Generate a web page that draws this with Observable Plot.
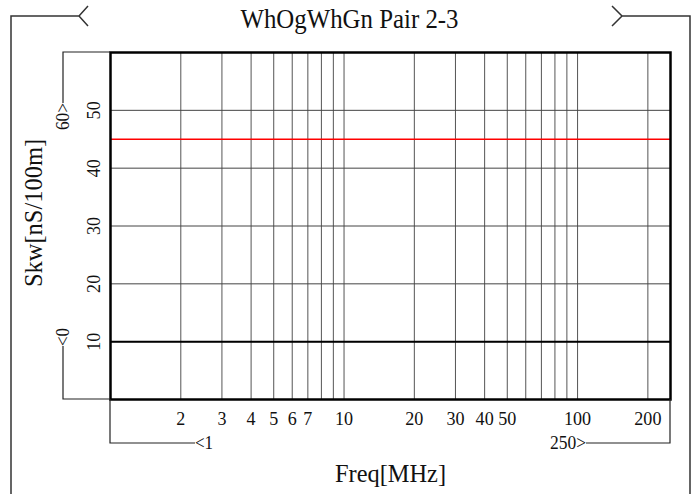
<!DOCTYPE html>
<html>
<head>
<meta charset="utf-8">
<script src="https://cdn.jsdelivr.net/npm/d3@7"></script>
<script src="https://cdn.jsdelivr.net/npm/@observablehq/plot@0.6"></script>
<style>
  body { margin: 0; background: #fff; }
  svg { display: block; }
</style>
</head>
<body>
<div id="chart"></div>
<script>
// Chart texts
const title = "WhOgWhGn Pair 2-3";
const xLabel = "Freq[MHz]";
const yLabel = "Skw[nS/100m]";

// Axis ranges: frequency (log) and skew
const freqDomain = [1, 250];
const skewDomain = [0, 60];

// Grid and tick values
const xGridValues = [2, 3, 4, 5, 6, 7, 8, 9, 10, 20, 30, 40, 50, 60, 70, 80, 90, 100, 200];
const xTickLabels = [2, 3, 4, 5, 6, 7, 10, 20, 30, 40, 50, 100, 200];
const yGridValues = [10, 20, 30, 40, 50];
const yTickLabels = [10, 20, 30, 40, 50];

// Horizontal levels: skew limit (red) and measured skew (black)
const limitSkew = [45];
const measuredSkew = [10];

const W = 699, H = 494;
const M = {top: 52, right: 29, bottom: 95, left: 110};
const FONT = "'Liberation Serif', 'Times New Roman', serif";
const TICK_SIZE = 19, LABEL_SIZE = 26, TITLE_SIZE = 27;

const plot = Plot.plot({
  width: W,
  height: H,
  marginTop: M.top,
  marginRight: M.right,
  marginBottom: M.bottom,
  marginLeft: M.left,
  style: {fontFamily: FONT, fontSize: TICK_SIZE + "px", background: "#fff", color: "#111"},
  x: {type: "log", domain: freqDomain, axis: null},
  y: {domain: skewDomain, axis: null},
  marks: [
    Plot.ruleX(xGridValues, {x: d => d, stroke: "#555", strokeWidth: 1}),
    Plot.ruleY(yGridValues, {y: d => d, stroke: "#444", strokeWidth: 1}),
    Plot.ruleY(measuredSkew, {y: d => d, stroke: "#000", strokeWidth: 2}),
    Plot.ruleY(limitSkew, {y: d => d, stroke: "#ff0000", strokeWidth: 1.5}),
    Plot.frame({stroke: "#000", strokeWidth: 2.5}),
    Plot.text(xTickLabels, {
      x: d => d, text: d => String(d), frameAnchor: "bottom",
      dy: 25, lineAnchor: "bottom", fontSize: TICK_SIZE, fill: "#111"
    }),
    Plot.text(yTickLabels, {
      y: d => d, text: d => String(d), frameAnchor: "left",
      dx: -11, rotate: -90, lineAnchor: "bottom", textAnchor: "middle", fontSize: TICK_SIZE, fill: "#111"
    }),
    Plot.text([xLabel], {
      text: d => d, frameAnchor: "bottom", dy: 82, lineAnchor: "bottom", fontSize: LABEL_SIZE, fill: "#111"
    }),
    Plot.text([yLabel], {
      text: d => d, frameAnchor: "left", dx: -69, dy: -13, rotate: -90,
      lineAnchor: "bottom", textAnchor: "middle", fontSize: LABEL_SIZE, fill: "#111"
    })
  ]
});

document.getElementById("chart").append(plot);

// Decorations: outer frame with title chevrons, and range brackets
const svg = d3.select(plot);
const sx = plot.scale("x"), sy = plot.scale("y");
const xLeft = sx.apply(freqDomain[0]), xRight = sx.apply(freqDomain[1]);
const yBottom = sy.apply(skewDomain[0]), yTop = sy.apply(skewDomain[1]);

const deco = svg.append("g").attr("fill", "none");

// outer frame
const oL = 11, oR = W - 9, oT = 16, inset = 68;
deco.append("path")
  .attr("stroke", "#333").attr("stroke-width", 1.5)
  .attr("d", `M${oL + inset + 9},${oT - 10}L${oL + inset},${oT}L${oL + inset + 9},${oT + 10}` +
             `M${oL + inset},${oT}H${oL}V${H}` +
             `M${oR - inset - 10},${oT - 10}L${oR - inset},${oT}L${oR - inset - 10},${oT + 10}` +
             `M${oR - inset},${oT}H${oR}V${H}`);

svg.append("text")
  .attr("x", W / 2).attr("y", 28)
  .attr("text-anchor", "middle")
  .attr("font-size", TITLE_SIZE).attr("fill", "#111")
  .text(title);

// y range bracket
const by = 63;
deco.append("path")
  .attr("stroke", "#222").attr("stroke-width", 1.2)
  .attr("d", `M${xLeft},${yTop}H${by}V${yTop + 51}M${by},${yBottom - 53}V${yBottom}H${xLeft}`);
svg.append("text")
  .attr("transform", `translate(${by},${yTop + 51}) rotate(-90)`)
  .attr("text-anchor", "end").attr("dy", "0.32em")
  .attr("font-size", TICK_SIZE).attr("fill", "#111")
  .text(`${skewDomain[1]}>`);
svg.append("text")
  .attr("transform", `translate(${by},${yBottom - 53}) rotate(-90)`)
  .attr("text-anchor", "start").attr("dy", "0.32em")
  .attr("font-size", TICK_SIZE).attr("fill", "#111")
  .text(`<${skewDomain[0]}`);

// x range bracket
const bx = 443;
deco.append("path")
  .attr("stroke", "#222").attr("stroke-width", 1.2)
  .attr("d", `M${xLeft},${yBottom}V${bx}H${xLeft + 85}M${xRight - 84},${bx}H${xRight}V${yBottom}`);
svg.append("text")
  .attr("x", xLeft + 85).attr("y", bx).attr("dy", "0.32em")
  .attr("text-anchor", "start")
  .attr("font-size", TICK_SIZE).attr("fill", "#111")
  .text(`<${freqDomain[0]}`);
svg.append("text")
  .attr("x", xRight - 84).attr("y", bx).attr("dy", "0.32em")
  .attr("text-anchor", "end")
  .attr("font-size", TICK_SIZE).attr("fill", "#111")
  .text(`${freqDomain[1]}>`);

// Fixed-pitch, narrow lettering: every character gets the same half-em advance
svg.selectAll("text").each(function () {
  const fs = parseFloat(getComputedStyle(this).fontSize);
  const n = this.textContent.length;
  this.setAttribute("textLength", (n * fs * 0.475).toFixed(1));
  this.setAttribute("lengthAdjust", "spacingAndGlyphs");
});
</script>
</body>
</html>
